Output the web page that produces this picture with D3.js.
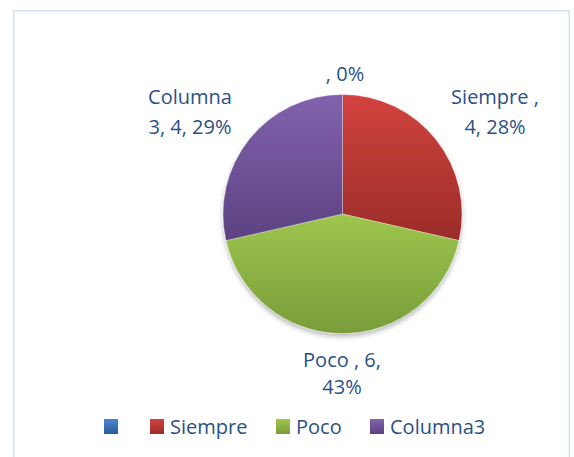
<!DOCTYPE html>
<html>
<head>
<meta charset="utf-8">
<script src="https://cdn.jsdelivr.net/npm/d3@7"></script>
<style>
  html, body { margin: 0; padding: 0; background: #ffffff; }
  svg { display: block; }
  text { font-family: "Open Sans", "Noto Sans", sans-serif; }
</style>
</head>
<body>
<svg id="chart" width="574" height="457"></svg>
<script>
// ---- data ----
const categories = ["", "Siempre", "Poco", "Columna3"];
const values = [0, 4, 6, 4];
const percents = [0, 28, 43, 29];
const labelLines = [
  [", 0%"],
  ["Siempre ,", "4, 28%"],
  ["Poco , 6,", "43%"],
  ["Columna", "3, 4, 29%"]
];
const colorTop = ["#4a86d0", "#d2433e", "#9ec64e", "#8262ad"];
const colorBottom = ["#2b5b98", "#9a2c29", "#789d3a", "#5c4282"];

// ---- layout ----
const W = 574, H = 457;
const cx = 342.5, cy = 214, R = 119.5;
const labelLayout = [
  { x: 345, y: 81, lh: 0 },
  { x: 495, y: 104, lh: 29.5 },
  { x: 342, y: 367, lh: 27 },
  { x: 190, y: 104, lh: 29.5 }
];
const textColor = "#2a5185";
const fontSize = 20;

const svg = d3.select("#chart");
const defs = svg.append("defs");

// gradients
categories.forEach((c, i) => {
  const g = defs.append("linearGradient")
    .attr("id", "grad" + i)
    .attr("x1", 0).attr("y1", 0).attr("x2", 0).attr("y2", 1);
  g.append("stop").attr("offset", "0%").attr("stop-color", colorTop[i]);
  g.append("stop").attr("offset", "100%").attr("stop-color", colorBottom[i]);
});

const f = defs.append("filter").attr("id", "shadow")
  .attr("x", "-20%").attr("y", "-20%").attr("width", "140%").attr("height", "140%");
f.append("feDropShadow").attr("dx", 0).attr("dy", 3).attr("stdDeviation", 2.5)
  .attr("flood-color", "#000").attr("flood-opacity", 0.28);

// chart border
svg.append("rect")
  .attr("x", 13.75).attr("y", 10.75)
  .attr("width", 555.5).attr("height", 460)
  .attr("fill", "#ffffff")
  .attr("stroke", "#d5e2f3").attr("stroke-width", 1.5);

// pie
const pie = d3.pie().sort(null).value(d => d.value);
const arcs = pie(categories.map((c, i) => ({ cat: c, value: values[i], idx: i })));
const arc = d3.arc().innerRadius(0).outerRadius(R);

const g = svg.append("g")
  .attr("transform", `translate(${cx},${cy})`)
  .attr("filter", "url(#shadow)");

g.selectAll("path")
  .data(arcs.filter(a => a.data.value > 0))
  .join("path")
  .attr("d", arc)
  .attr("fill", d => `url(#grad${d.data.idx})`)
  .attr("stroke", "rgba(255,255,255,0.5)")
  .attr("stroke-width", 0.6);

// data labels
labelLines.forEach((lines, i) => {
  const L = labelLayout[i];
  const t = svg.append("text")
    .attr("text-anchor", "middle")
    .attr("font-size", fontSize)
    .attr("fill", textColor);
  lines.forEach((ln, k) => {
    t.append("tspan").attr("x", L.x).attr("y", L.y + k * L.lh).text(ln);
  });
});

// legend
const legendX = [104, 150, 276, 370];
const legendY = 419;
const leg = svg.append("g");
categories.forEach((c, i) => {
  leg.append("rect")
    .attr("x", legendX[i]).attr("y", legendY)
    .attr("width", 14).attr("height", 15)
    .attr("fill", `url(#grad${i})`);
  if (c) {
    leg.append("text")
      .attr("x", legendX[i] + 20)
      .attr("y", legendY + 15)
      .attr("font-size", fontSize)
      .attr("fill", textColor)
      .text(c);
  }
});
</script>
</body>
</html>
